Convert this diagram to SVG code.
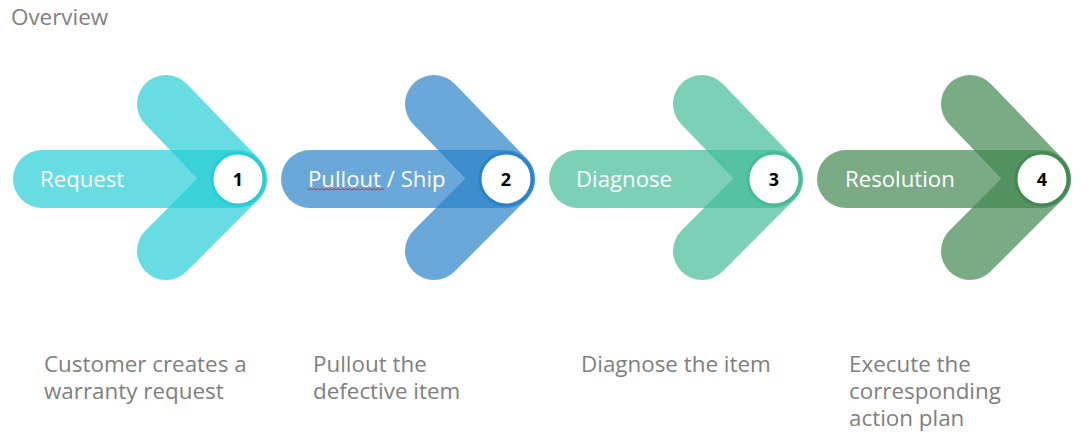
<svg xmlns="http://www.w3.org/2000/svg" width="1086" height="443" viewBox="0 0 1086 443">
  <style>
    .bar, .chev { fill: none; stroke-width: 58; stroke-linecap: round; stroke-linejoin: round; stroke-opacity: 0.7; }
    .num-c { fill: #ffffff; stroke-width: 3; }
    .lbl { font-family: 'Open Sans', 'Noto Sans', sans-serif; font-size: 22.2px; fill: #ffffff; }
    .num { font-family: 'Open Sans', 'Liberation Sans', sans-serif; font-size: 18px; font-weight: bold; fill: #000000; text-anchor: middle; }
    .desc { font-family: 'Open Sans', 'Noto Sans', sans-serif; font-size: 22.4px; fill: #7f7f7f; }
    .c1 { stroke: #27cdd6; }
    .c2 { stroke: #2a83c7; }
    .c3 { stroke: #44bc97; }
    .c4 { stroke: #418851; }
  </style>
  <text x="11" y="25" class="desc">Overview</text>

  <g id="step1">
    <path class="bar c1" d="M42,179 L238,179"/>
    <path class="chev c1" d="M166,104 L238,179 L166,251"/>
    <circle class="num-c c1" cx="238" cy="179" r="26"/>
    <text x="40" y="187" class="lbl">Request</text>
    <text x="238" y="185.5" class="num">1</text>
  </g>

  <g id="step2" transform="translate(268,0)">
    <path class="bar c2" d="M42,179 L238,179"/>
    <path class="chev c2" d="M166,104 L238,179 L166,251"/>
    <circle class="num-c c2" cx="238" cy="179" r="26"/>
    <text x="40" y="187" class="lbl">Pullout / Ship</text>
    <path d="M40,190 l2,-1.5 l2,1.5 l2,-1.5 l2,1.5 l2,-1.5 l2,1.5 l2,-1.5 l2,1.5 l2,-1.5 l2,1.5 l2,-1.5 l2,1.5 l2,-1.5 l2,1.5 l2,-1.5 l2,1.5 l2,-1.5 l2,1.5 l2,-1.5 l2,1.5 l2,-1.5 l2,1.5 l2,-1.5 l2,1.5 l2,-1.5 l2,1.5 l2,-1.5 l2,1.5 l2,-1.5 l2,1.5 l2,-1.5 l2,1.5 l2,-1.5 l2,1.5 l2,-1.5 l2,1.5 l2,-1.5 l2,1.5" fill="none" stroke="#e02020" stroke-width="0.9"/>
    <text x="238" y="185.5" class="num">2</text>
  </g>

  <g id="step3" transform="translate(536,0)">
    <path class="bar c3" d="M42,179 L238,179"/>
    <path class="chev c3" d="M166,104 L238,179 L166,251"/>
    <circle class="num-c c3" cx="238" cy="179" r="26"/>
    <text x="40" y="187" class="lbl">Diagnose</text>
    <text x="238" y="185.5" class="num">3</text>
  </g>

  <g id="step4" transform="translate(804,0)">
    <path class="bar c4" d="M42,179 L238,179"/>
    <path class="chev c4" d="M166,104 L238,179 L166,251"/>
    <circle class="num-c c4" cx="238" cy="179" r="26"/>
    <text x="41" y="187" class="lbl">Resolution</text>
    <text x="238" y="185.5" class="num">4</text>
  </g>

  <g id="descriptions">
    <text x="44" y="372" class="desc">Customer creates a</text>
    <text x="44" y="399" class="desc">warranty request</text>
    <text x="313" y="372" class="desc">Pullout the</text>
    <text x="313" y="399" class="desc">defective item</text>
    <text x="581" y="372" class="desc">Diagnose the item</text>
    <text x="849" y="372" class="desc">Execute the</text>
    <text x="849" y="399" class="desc">corresponding</text>
    <text x="849" y="426" class="desc">action plan</text>
  </g>
  <g id="connectors"></g>
</svg>
